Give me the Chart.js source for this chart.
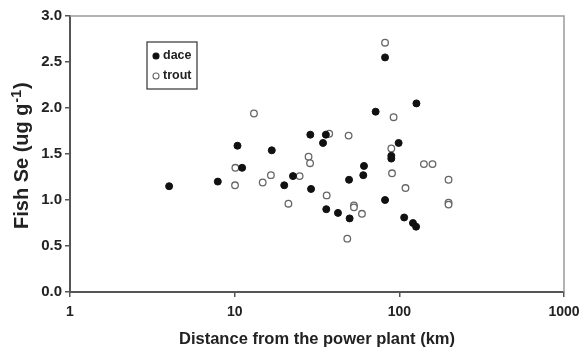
<!DOCTYPE html>
<html>
<head>
<meta charset="utf-8">
<script src="https://cdn.jsdelivr.net/npm/chart.js@4/dist/chart.umd.min.js"></script>
<style>
  body { margin: 0; background: #fff; }
</style>
</head>
<body>
<canvas id="seChart" width="579" height="353"></canvas>
<script>
// distances (km) and Se values
const daceDist = [4.0, 7.9, 10.4, 11.1, 16.8, 20.0, 22.6, 28.8, 29.1, 34.4, 35.8, 36, 42.4, 49.5, 49.9, 60.4, 61, 71.8, 81.9, 81.9, 89.4, 89.4, 99, 107, 121, 126.4, 127];
const daceSe   = [1.15, 1.20, 1.59, 1.35, 1.54, 1.16, 1.26, 1.71, 1.12, 1.62, 1.71, 0.90, 0.86, 1.22, 0.80, 1.27, 1.37, 1.96, 2.55, 1.00, 1.48, 1.45, 1.62, 0.81, 0.75, 0.71, 2.05];
const troutDist = [10.05, 10.1, 13.1, 14.8, 16.6, 21.2, 24.8, 28.1, 28.7, 36.2, 37.5, 48.3, 49.2, 53, 53, 59.3, 81.9, 89.4, 90.3, 92.3, 109, 141, 159, 199, 199, 199];
const troutSe   = [1.16, 1.35, 1.94, 1.19, 1.27, 0.96, 1.26, 1.47, 1.40, 1.05, 1.72, 0.58, 1.70, 0.94, 0.92, 0.85, 2.71, 1.56, 1.29, 1.90, 1.13, 1.39, 1.39, 1.22, 0.97, 0.95];
const xTicks = [1, 10, 100, 1000];
const yTicks = [0, 0.5, 1.0, 1.5, 2.0, 2.5, 3.0];

const toPoints = (xs, ys) => xs.map((x, i) => ({ x: x, y: ys[i] }));

const font = '"Liberation Sans", Arial, sans-serif';

// top/right frame, y title with superscript, legend box
const extras = {
  id: "extras",
  afterDraw(chart) {
    const ctx = chart.ctx;
    const a = chart.chartArea;
    ctx.save();
    ctx.strokeStyle = "#9a9a9a";
    ctx.lineWidth = 1.5;
    ctx.beginPath();
    ctx.moveTo(a.left, a.top);
    ctx.lineTo(a.right, a.top);
    ctx.lineTo(a.right, a.bottom);
    ctx.stroke();

    // y axis title
    ctx.save();
    ctx.translate(28, 229);
    ctx.rotate(-Math.PI / 2);
    ctx.fillStyle = "#222";
    ctx.textBaseline = "alphabetic";
    ctx.font = "bold 20px " + font;
    const main = "Fish Se (ug g";
    ctx.fillText(main, 0, 0);
    let w = ctx.measureText(main).width + 1;
    ctx.font = "bold 14px " + font;
    ctx.fillText("-1", w, -7);
    w += ctx.measureText("-1").width + 1;
    ctx.font = "bold 20px " + font;
    ctx.fillText(")", w, 0);
    ctx.restore();

    // legend
    const bx = 147, by = 42, bw = 50, bh = 47;
    ctx.strokeStyle = "#333";
    ctx.lineWidth = 1.2;
    ctx.strokeRect(bx, by, bw, bh);
    ctx.font = "bold 12.5px " + font;
    ctx.textBaseline = "middle";
    chart.data.datasets.forEach((ds, i) => {
      const cy = by + 14 + i * 20;
      ctx.beginPath();
      ctx.arc(bx + 9, cy, 3, 0, Math.PI * 2);
      ctx.fillStyle = ds.backgroundColor;
      ctx.fill();
      ctx.strokeStyle = ds.borderColor;
      ctx.lineWidth = 1.1;
      ctx.stroke();
      ctx.fillStyle = "#222";
      ctx.fillText(ds.label, bx + 16, cy);
    });
    ctx.restore();
  }
};

new Chart(document.getElementById("seChart"), {
  type: "scatter",
  data: {
    datasets: [
      {
        label: "dace",
        data: toPoints(daceDist, daceSe),
        backgroundColor: "#111",
        borderColor: "#111",
        borderWidth: 1,
        pointRadius: 3.5,
      },
      {
        label: "trout",
        data: toPoints(troutDist, troutSe),
        backgroundColor: "#fff",
        borderColor: "#666",
        borderWidth: 1.3,
        pointRadius: 3.3,
      },
    ],
  },
  options: {
    responsive: false,
    animation: false,
    layout: { autoPadding: false, padding: { top: 16, right: 15, left: 0, bottom: 0 } },
    plugins: {
      legend: { display: false },
      tooltip: { enabled: false },
    },
    scales: {
      x: {
        type: "logarithmic",
        min: 1,
        max: 1000,
        afterBuildTicks: (s) => { s.ticks = xTicks.map(v => ({ value: v })); },
        afterFit: (s) => { s.height = 61; s.paddingLeft = 0; s.paddingRight = 0; },
        ticks: {
          color: "#222",
          font: { family: font, size: 14, weight: "bold" },
          padding: 7,
          maxRotation: 0,
          callback: (v) => String(v),
        },
        grid: { drawOnChartArea: false, drawTicks: true, tickLength: 5, color: "#555", lineWidth: 1.5 },
        border: { color: "#555", width: 2 },
        title: {
          display: true,
          text: "Distance from the power plant (km)",
          color: "#222",
          font: { family: font, size: 16.5, weight: "bold" },
          padding: { top: 10 },
        },
      },
      y: {
        min: 0,
        max: 3,
        afterBuildTicks: (s) => { s.ticks = yTicks.map(v => ({ value: v })); },
        afterFit: (s) => { s.width = 70; },
        ticks: {
          color: "#222",
          font: { family: font, size: 15, weight: "bold" },
          padding: 3,
          callback: (v) => Number(v).toFixed(1),
        },
        grid: { drawOnChartArea: false, drawTicks: true, tickLength: 5, color: "#555", lineWidth: 1.5 },
        border: { color: "#555", width: 2 },
      },
    },
  },
  plugins: [extras],
});
</script>
</body>
</html>
